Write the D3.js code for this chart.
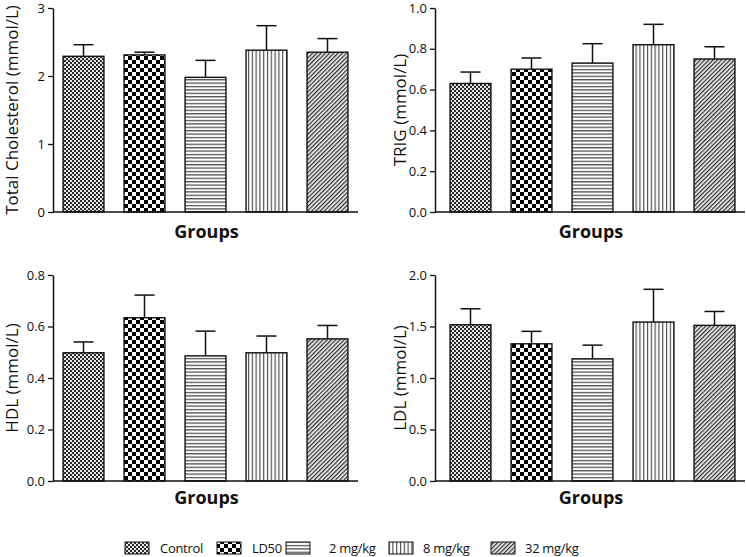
<!DOCTYPE html>
<html>
<head>
<meta charset="utf-8">
<script src="https://cdn.jsdelivr.net/npm/d3@7"></script>
<style>
html,body{margin:0;padding:0;background:#fff;}
svg{display:block;font-family:"Open Sans","Noto Sans",sans-serif;}
</style>
</head>
<body>
<svg id="chart" width="746" height="557"></svg>
<script>
const groups = ["Control", "LD50", "2 mg/kg", "8 mg/kg", "32 mg/kg"];

const tcMean = [2.29, 2.31, 1.98, 2.38, 2.35];
const tcErr  = [0.17, 0.04, 0.25, 0.36, 0.20];
const trigMean = [0.63, 0.70, 0.73, 0.82, 0.75];
const trigErr  = [0.056, 0.055, 0.095, 0.10, 0.06];
const hdlMean = [0.498, 0.634, 0.486, 0.498, 0.552];
const hdlErr  = [0.042, 0.088, 0.096, 0.065, 0.052];
const ldlMean = [1.517, 1.332, 1.186, 1.543, 1.511];
const ldlErr  = [0.155, 0.121, 0.133, 0.318, 0.135];

const tcTicks = [0, 1, 2, 3];
const trigTicks = [0, 0.2, 0.4, 0.6, 0.8, 1.0];
const hdlTicks = [0, 0.2, 0.4, 0.6, 0.8];
const ldlTicks = [0, 0.5, 1.0, 1.5, 2.0];

const xTitle = "Groups";

const svg = d3.select("#chart");
const defs = svg.append("defs");

// patterns
const patIds = ["p-control", "p-ld50", "p-2mg", "p-8mg", "p-32mg"];
{
  const p = defs.append("pattern").attr("id", patIds[0]).attr("patternUnits", "userSpaceOnUse").attr("width", 4).attr("height", 4);
  p.append("rect").attr("width", 4).attr("height", 4).attr("fill", "#e6e6e6");
  p.append("rect").attr("width", 2).attr("height", 2).attr("fill", "#2a2a2a");
  p.append("rect").attr("x", 2).attr("y", 2).attr("width", 2).attr("height", 2).attr("fill", "#2a2a2a");
}
{
  const p = defs.append("pattern").attr("id", patIds[1]).attr("patternUnits", "userSpaceOnUse").attr("width", 8).attr("height", 8);
  p.append("rect").attr("width", 8).attr("height", 8).attr("fill", "#fff");
  p.append("rect").attr("width", 4).attr("height", 4).attr("fill", "#000");
  p.append("rect").attr("x", 4).attr("y", 4).attr("width", 4).attr("height", 4).attr("fill", "#000");
}
{
  const p = defs.append("pattern").attr("id", patIds[2]).attr("patternUnits", "userSpaceOnUse").attr("width", 4).attr("height", 3.4);
  p.append("rect").attr("width", 4).attr("height", 3.4).attr("fill", "#fff");
  p.append("rect").attr("y", 1).attr("width", 4).attr("height", 1.1).attr("fill", "#333");
}
{
  const p = defs.append("pattern").attr("id", patIds[3]).attr("patternUnits", "userSpaceOnUse").attr("width", 3.8).attr("height", 4);
  p.append("rect").attr("width", 3.8).attr("height", 4).attr("fill", "#fff");
  p.append("rect").attr("x", 1).attr("width", 1.1).attr("height", 4).attr("fill", "#444");
}
{
  const p = defs.append("pattern").attr("id", patIds[4]).attr("patternUnits", "userSpaceOnUse").attr("width", 3).attr("height", 3).attr("patternTransform", "rotate(45)");
  p.append("rect").attr("width", 3).attr("height", 3).attr("fill", "#f2f2f2");
  p.append("rect").attr("x", 0).attr("width", 1.3).attr("height", 3).attr("fill", "#333");
}

const panels = [
  {mean: tcMean, err: tcErr, ticks: tcTicks, fmt: d3.format("d"), title: "Total Cholesterol (mmol/L)", axisX: 53, barX0: 53, xEnd: 358, top: 8, bottom: 212, titleX: 11, xtY: 238},
  {mean: trigMean, err: trigErr, ticks: trigTicks, fmt: d3.format(".1f"), title: "TRIG (mmol/L)", axisX: 435, barX0: 440, xEnd: 745, top: 8, bottom: 212, titleX: 399, xtY: 238},
  {mean: hdlMean, err: hdlErr, ticks: hdlTicks, fmt: d3.format(".1f"), title: "HDL (mmol/L)", axisX: 53, barX0: 53, xEnd: 358, top: 275, bottom: 481, titleX: 11, xtY: 504},
  {mean: ldlMean, err: ldlErr, ticks: ldlTicks, fmt: d3.format(".1f"), title: "LDL (mmol/L)", axisX: 435, barX0: 440, xEnd: 745, top: 275, bottom: 481, titleX: 399, xtY: 504}
];

panels.forEach(pn => {
  const g = svg.append("g");
  const y = d3.scaleLinear().domain([0, d3.max(pn.ticks)]).range([pn.bottom, pn.top]);
  const x = d3.scaleBand().domain(groups).range([pn.barX0, pn.barX0 + 305]).paddingInner(0.33).paddingOuter(0.165);

  groups.forEach((gname, i) => {
    const bx = x(gname), bw = x.bandwidth();
    const cx = bx + bw / 2;
    const top = y(pn.mean[i]);
    const etop = y(pn.mean[i] + pn.err[i]);
    g.append("line").attr("x1", cx).attr("x2", cx).attr("y1", top).attr("y2", etop).attr("stroke", "#111").attr("stroke-width", 1.5);
    g.append("line").attr("x1", cx - 10).attr("x2", cx + 10).attr("y1", etop).attr("y2", etop).attr("stroke", "#111").attr("stroke-width", 1.5);
    g.append("rect").attr("x", bx).attr("y", top).attr("width", bw).attr("height", pn.bottom - top)
      .attr("fill", `url(#${patIds[i]})`).attr("stroke", "#111").attr("stroke-width", 1.4);
  });

  const ax = g.append("g").attr("transform", `translate(${pn.axisX},0)`)
    .call(d3.axisLeft(y).tickValues(pn.ticks).tickFormat(pn.fmt).tickSize(5).tickPadding(3).tickSizeOuter(0));
  ax.select(".domain").attr("stroke", "#111").attr("stroke-width", 1.5);
  ax.selectAll(".tick line").attr("stroke", "#111").attr("stroke-width", 1.3);
  ax.selectAll(".tick text").attr("font-size", 13).attr("fill", "#111").attr("font-family", "'Open Sans',sans-serif");

  g.append("line").attr("x1", pn.axisX).attr("x2", pn.xEnd).attr("y1", pn.bottom).attr("y2", pn.bottom).attr("stroke", "#111").attr("stroke-width", 1.5);

  g.append("text").attr("transform", `translate(${pn.titleX},${(pn.top + pn.bottom) / 2}) rotate(-90)`)
    .attr("text-anchor", "middle").attr("dominant-baseline", "central").attr("font-size", 17).attr("fill", "#111").text(pn.title);

  g.append("text").attr("x", (pn.axisX + pn.xEnd) / 2 + 1).attr("y", pn.xtY).attr("text-anchor", "middle")
    .attr("font-size", 18).attr("font-weight", "bold").attr("fill", "#111").text(xTitle);
});

// legend
const legendSw = [125, 217, 286, 389, 491];
const legendTx = [160, 252, 329, 423, 525];
const lg = svg.append("g");
groups.forEach((gname, i) => {
  lg.append("rect").attr("x", legendSw[i]).attr("y", 542).attr("width", 24).attr("height", 12)
    .attr("fill", `url(#${patIds[i]})`).attr("stroke", "#111").attr("stroke-width", 1);
  lg.append("text").attr("x", legendTx[i]).attr("y", 553).attr("font-size", 13).attr("letter-spacing", -0.3).attr("fill", "#111").text(gname);
});
</script>
</body>
</html>
